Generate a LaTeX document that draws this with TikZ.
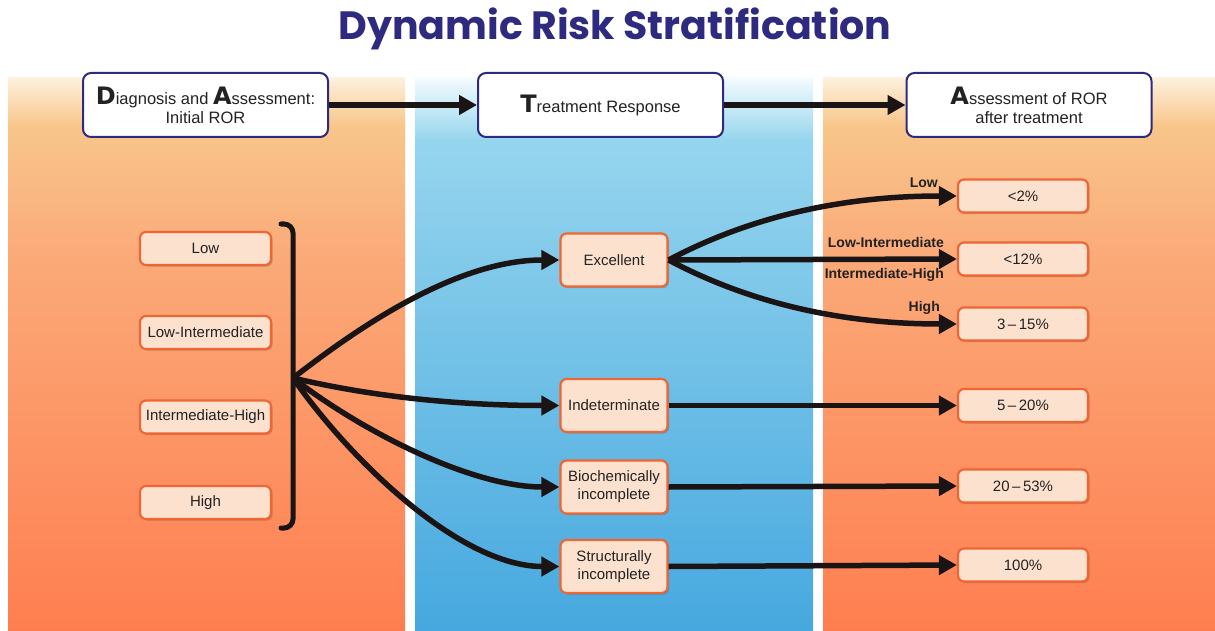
\documentclass[tikz,border=0pt]{standalone}
\usepackage{fontspec}
\setmainfont{Liberation Sans}
\newfontfamily\heavyfont{DejaVu Sans}
\newfontfamily\titlefont{Poppins}
\usetikzlibrary{arrows.meta,shadows}
\definecolor{navy}{HTML}{2E2A80}
\definecolor{ink}{HTML}{1A1414}
\definecolor{txt}{HTML}{222222}
\definecolor{nodeborder}{HTML}{EE6633}
\definecolor{nodefill}{HTML}{FDE1CF}
\definecolor{orA}{HTML}{FDF1DE}
\definecolor{orB}{HTML}{F8C68A}
\definecolor{orC}{HTML}{FBA978}
\definecolor{orD}{HTML}{FF7E50}
\definecolor{blA}{HTML}{F4FBFE}
\definecolor{blB}{HTML}{96D5EE}
\definecolor{blD}{HTML}{46A8DF}
\newcommand{\bigletter}[1]{{\heavyfont\bfseries\fontsize{24}{24}\selectfont #1}}
\begin{document}
\begin{tikzpicture}[x=1pt,y=-1pt,
  arr/.style={line width=5.5pt, draw=ink, -{Triangle[length=18pt,width=19pt]}},
  lvl/.style={draw=nodeborder, line width=2.2pt, fill=nodefill, rounded corners=6pt,
    drop shadow={shadow xshift=1.5pt,shadow yshift=-1.5pt,opacity=0.3,fill=black!70},
    font=\fontsize{15}{18}\selectfont, text=txt, inner sep=0pt, align=center},
  risk/.style={lvl, minimum width=131pt, minimum height=33pt},
  resp/.style={lvl, minimum width=107pt, minimum height=53pt},
  ror/.style={lvl, minimum width=130pt, minimum height=33pt},
  head/.style={draw=navy, line width=2pt, fill=white, rounded corners=8pt,
    minimum width=245pt, minimum height=64pt, align=center,
    font=\fontsize{16.5}{19}\selectfont, text=txt, inner sep=0pt},
  lab/.style={font=\fontsize{14}{16}\selectfont\bfseries, text=txt, anchor=east, inner sep=0pt}
]
\useasboundingbox (0,0) rectangle (1215,631);
\fill[white] (0,0) rectangle (1215,631);
% left panel
\shade[top color=orA, bottom color=orB] (8,78) rectangle (405,126);
\shade[top color=orB, bottom color=orC] (8,125.5) rectangle (405,260);
\shade[top color=orC, bottom color=orD] (8,259.5) rectangle (405,631);
% middle panel
\shade[top color=blA, bottom color=blB] (415,78) rectangle (813,140);
\shade[top color=blB, bottom color=blD] (415,139.5) rectangle (813,631);
% right panel
\shade[top color=orA, bottom color=orB] (823,78) rectangle (1215,126);
\shade[top color=orB, bottom color=orC] (823,125.5) rectangle (1215,260);
\shade[top color=orC, bottom color=orD] (823,259.5) rectangle (1215,631);

\node[font=\titlefont\bfseries\fontsize{39.5}{44}\selectfont, text=navy] (title) at (615,29) {Dynamic Risk Stratification};

% header boxes
\node[head] (h1) at (205.5,105) {\bigletter{D}iagnosis and \bigletter{A}ssessment:\\Initial ROR};
\node[head] (h2) at (600.5,105) {\bigletter{T}reatment Response};
\node[head] (h3) at (1029,105) {\bigletter{A}ssessment of ROR\\after treatment};
\draw[arr] (h1) -- (h2);
\draw[arr] (h2) -- (h3);

% initial risk
\node[risk] (low) at (205.5,248.5) {Low};
\node[risk] (lowint) at (205.5,332.5) {Low-Intermediate};
\node[risk] (inthigh) at (205.5,417) {Intermediate-High};
\node[risk] (high) at (205.5,502.5) {High};
\draw[line width=5pt, draw=ink, line cap=round, rounded corners=9pt] (281,224) -- (293,224) -- (293,528) -- (281,528);
\coordinate (br) at (293,378);

% responses
\node[resp] (exc) at (614,260) {Excellent};
\node[resp] (ind) at (614,405.5) {Indeterminate};
\node[resp] (bio) at (614,487) {Biochemically\\incomplete};
\node[resp] (str) at (614,566.5) {Structurally\\incomplete};

% outcomes
\node[ror] (r2) at (1023,196) {<2\%};
\node[ror] (r12) at (1023,259) {<12\%};
\node[ror] (r315) at (1023,324) {3\,–\,15\%};
\node[ror] (r520) at (1023,405.5) {5\,–\,20\%};
\node[ror] (r2053) at (1023,486) {20\,–\,53\%};
\node[ror] (r100) at (1023,565) {100\%};

% connectors from bracket
\draw[arr] (br) .. controls (345,338) and (450,260) .. (exc.west);
\draw[arr] (br) .. controls (365,395) and (450,405.5) .. (ind.west);
\draw[arr] (br) .. controls (360,430) and (470,487) .. (bio.west);
\draw[arr] (br) .. controls (350,460) and (460,566.5) .. (str.west);

% connectors to outcomes
\draw[arr] (exc.east) .. controls (740,222) and (830,196) .. (r2.west);
\draw[arr] (exc.east) -- (r12.west);
\draw[arr] (exc.east) .. controls (740,298) and (830,324) .. (r315.west);
\draw[arr] (ind.east) -- (r520.west);
\draw[arr] (bio.east) -- (r2053.west);
\draw[arr] (str.east) -- (r100.west);

% labels
\node[lab] (lLow) at (938,183) {Low};
\node[lab] (lLI) at (944,242) {Low-Intermediate};
\node[lab] (lIH) at (944,275) {Intermediate-High};
\node[lab] (lHigh) at (940,308) {High};
\end{tikzpicture}
\end{document}
